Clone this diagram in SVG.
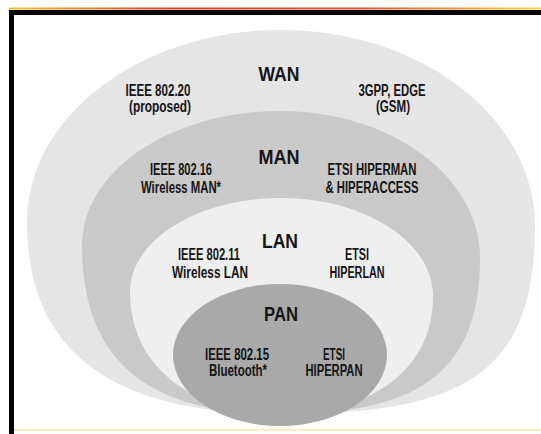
<svg xmlns="http://www.w3.org/2000/svg" width="541" height="434" viewBox="0 0 541 434">
  <defs>
    <linearGradient id="topline" x1="0" y1="0" x2="1" y2="0">
      <stop offset="0" stop-color="#e8c830"/>
      <stop offset="0.3" stop-color="#e04028"/>
      <stop offset="0.65" stop-color="#e05030"/>
      <stop offset="1" stop-color="#f0d840"/>
    </linearGradient>
    <style>
      .lbl { font-family: "Liberation Sans", "DejaVu Sans", sans-serif; font-weight: bold; fill: #141414; text-anchor: middle; }
      .big { font-size: 20px; }
      .sm { font-size: 16px; }
      .wan { fill: #e5e5e5; }
      .man { fill: #c9c9c9; }
      .lan { fill: #efefef; }
      .pan { fill: #a9a9a9; }
    </style>
  </defs>

  <rect x="0" y="0" width="541" height="434" fill="#ffffff"/>

  <g id="frame">
    <rect x="9" y="7.5" width="532" height="2" fill="url(#topline)"/>
    <rect x="9" y="10" width="532" height="5" fill="#050505"/>
    <rect x="9" y="10" width="5" height="424" fill="#050505"/>
    <rect x="14" y="429" width="527" height="2" fill="#f6f0c4"/>
  </g>

  <g id="wan">
    <path class="wan" d="M281,30 C141,30 27,116 27,222 C27,362 126,414 281,414 C461,414 535,376 535,226 C535,118 421,30 281,30 Z"/>
    <text class="lbl big" x="279" y="81" textLength="41" lengthAdjust="spacingAndGlyphs">WAN</text>
    <text class="lbl sm" x="158" y="96" textLength="65" lengthAdjust="spacingAndGlyphs">IEEE 802.20</text>
    <text class="lbl sm" x="160" y="112" textLength="62" lengthAdjust="spacingAndGlyphs">(proposed)</text>
    <text class="lbl sm" x="392" y="96" textLength="67" lengthAdjust="spacingAndGlyphs">3GPP, EDGE</text>
    <text class="lbl sm" x="393" y="112" textLength="34" lengthAdjust="spacingAndGlyphs">(GSM)</text>
  </g>

  <g id="man">
    <path class="man" d="M281,111 C171,111 82,171 82,245 C82,370 158,414 281,414 C411,414 480,378 480,258 C480,177 391,111 281,111 Z"/>
    <text class="lbl big" x="279" y="164" textLength="41" lengthAdjust="spacingAndGlyphs">MAN</text>
    <text class="lbl sm" x="181" y="175" textLength="62" lengthAdjust="spacingAndGlyphs">IEEE 802.16</text>
    <text class="lbl sm" x="181" y="193" textLength="80" lengthAdjust="spacingAndGlyphs">Wireless MAN*</text>
    <text class="lbl sm" x="372" y="175" textLength="89" lengthAdjust="spacingAndGlyphs">ETSI HIPERMAN</text>
    <text class="lbl sm" x="372" y="193" textLength="93" lengthAdjust="spacingAndGlyphs">&amp; HIPERACCESS</text>
  </g>

  <g id="lan">
    <path class="lan" d="M281,198 C198,198 130,240 130,292 C130,372 200,414 281,414 C362,414 433,376 433,296 C433,242 365,198 281,198 Z"/>
    <text class="lbl big" x="280" y="248" textLength="36" lengthAdjust="spacingAndGlyphs">LAN</text>
    <text class="lbl sm" x="209" y="260" textLength="62" lengthAdjust="spacingAndGlyphs">IEEE 802.11</text>
    <text class="lbl sm" x="210" y="278" textLength="76" lengthAdjust="spacingAndGlyphs">Wireless LAN</text>
    <text class="lbl sm" x="357" y="260" textLength="24" lengthAdjust="spacingAndGlyphs">ETSI</text>
    <text class="lbl sm" x="357" y="278" textLength="55" lengthAdjust="spacingAndGlyphs">HIPERLAN</text>
  </g>

  <g id="pan">
    <ellipse class="pan" cx="280" cy="355" rx="107" ry="71"/>
    <text class="lbl big" x="281" y="321" textLength="34" lengthAdjust="spacingAndGlyphs">PAN</text>
    <text class="lbl sm" x="237" y="360" textLength="64" lengthAdjust="spacingAndGlyphs">IEEE 802.15</text>
    <text class="lbl sm" x="238" y="376" textLength="58" lengthAdjust="spacingAndGlyphs">Bluetooth*</text>
    <text class="lbl sm" x="334" y="360" textLength="22" lengthAdjust="spacingAndGlyphs">ETSI</text>
    <text class="lbl sm" x="334" y="376" textLength="57" lengthAdjust="spacingAndGlyphs">HIPERPAN</text>
  </g>

  <g id="connectors"></g>
</svg>
